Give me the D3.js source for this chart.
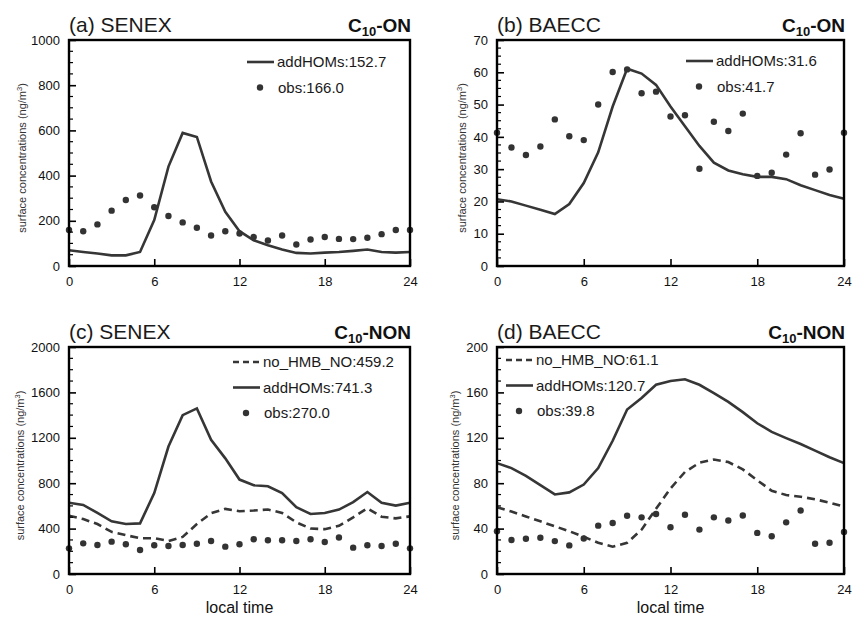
<!DOCTYPE html>
<html>
<head>
<meta charset="utf-8">
<script src="https://cdn.jsdelivr.net/npm/d3@7"></script>
<style>
  body { margin: 0; background: #fff; }
  svg { display: block; font-family: "Liberation Sans", Arial, sans-serif; }
</style>
</head>
<body>
<div id="chart"></div>
<script>
(function () {
    "use strict";

    // hour of day (x values shared by every panel)
    var hours = [0, 1, 2, 3, 4, 5, 6, 7, 8, 9, 10, 11, 12, 13, 14, 15, 16, 17, 18, 19, 20, 21, 22, 23, 24];
    var xTicks = [0, 6, 12, 18, 24];

    // (a) SENEX C10-ON
    var senexOnAddHOMs = [70, 62, 55, 47, 47, 62, 203, 440, 589, 571, 374, 240, 154, 114, 92, 73, 58, 55, 59, 62, 67, 73, 62, 59, 62];
    var senexOnObs = [159, 154, 184, 245, 292, 312, 260, 221, 193, 169, 135, 154, 144, 128, 113, 135, 95, 117, 128, 120, 119, 125, 141, 159, 159];

    // (b) BAECC C10-ON
    var baeccOnAddHOMs = [20.7, 20.0, 18.7, 17.4, 16.1, 19.2, 25.7, 35.2, 49.4, 61.1, 59.6, 56.1, 49.4, 43.3, 37.2, 32.0, 29.6, 28.4, 27.6, 27.6, 26.9, 25.0, 23.5, 22.0, 20.8];
    var baeccOnObs = [41.3, 36.7, 34.4, 37.0, 45.4, 40.2, 39.0, 50.0, 60.1, 60.9, 53.5, 54.0, 46.3, 46.7, 30.1, 44.7, 41.8, 47.2, 27.9, 28.9, 34.5, 41.1, 28.3, 29.9, 41.3];

    // (c) SENEX C10-NON
    var senexNonNoHMB = [514, 484, 440, 371, 342, 315, 315, 291, 327, 440, 535, 574, 553, 559, 568, 538, 455, 401, 395, 425, 499, 579, 505, 490, 508];
    var senexNonAddHOMs = [627, 609, 538, 464, 440, 446, 713, 1123, 1400, 1459, 1183, 1019, 832, 782, 773, 713, 588, 529, 538, 568, 633, 722, 627, 603, 627];
    var senexNonObs = [226, 270, 256, 285, 262, 211, 253, 247, 256, 267, 291, 241, 262, 306, 297, 297, 291, 306, 282, 321, 232, 253, 247, 267, 226];

    // (d) BAECC C10-NON
    var baeccNonNoHMB = [58.8, 55.1, 50.7, 46.4, 42.0, 37.7, 32.8, 27.5, 24.1, 27.5, 39.1, 57.4, 75.4, 89.9, 98.0, 100.9, 98.6, 92.2, 82.6, 73.3, 69.6, 68.1, 65.8, 62.9, 59.4];
    var baeccNonAddHOMs = [97.7, 93.3, 86.4, 78.3, 70.1, 71.9, 78.8, 93.3, 117.4, 144.9, 155.1, 166.7, 170.1, 171.6, 166.7, 159.4, 151.6, 142.6, 132.8, 125.2, 119.7, 114.5, 108.7, 102.9, 97.7];
    var baeccNonObs = [37.7, 29.9, 31.0, 31.9, 29.0, 25.2, 31.3, 42.6, 44.9, 51.3, 49.9, 52.8, 41.2, 52.2, 39.1, 49.9, 47.2, 51.6, 36.2, 33.3, 45.5, 55.9, 26.7, 27.5, 37.1];

    // y tick labels per panel
    var yTicksA = [0, 200, 400, 600, 800, 1000];
    var yTicksB = [0, 10, 20, 30, 40, 50, 60, 70];
    var yTicksC = [0, 400, 800, 1200, 1600, 2000];
    var yTicksD = [0, 40, 80, 120, 160, 200];

    var width = 852,
        height = 618,
        lineColor = '#363636';

    var panels = [
        {
            tag: '(a) SENEX', kind: 'ON', x0: 69, x1: 410, y0: 40, y1: 266,
            yMax: 1000, yTicks: yTicksA, minor: 50, yLabelX: 22,
            legend: { x: 178, y: 22 },
            series: [
                { type: 'line', name: 'addHOMs:152.7', values: senexOnAddHOMs },
                { type: 'dot', name: 'obs:166.0', values: senexOnObs }
            ]
        },
        {
            tag: '(b) BAECC', kind: 'ON', x0: 497, x1: 844, y0: 40, y1: 266,
            yMax: 70, yTicks: yTicksB, minor: 2.5, yLabelX: 462,
            legend: { x: 189, y: 21 },
            series: [
                { type: 'line', name: 'addHOMs:31.6', values: baeccOnAddHOMs },
                { type: 'dot', name: 'obs:41.7', values: baeccOnObs }
            ]
        },
        {
            tag: '(c) SENEX', kind: 'NON', x0: 69, x1: 410, y0: 347, y1: 574,
            yMax: 2000, yTicks: yTicksC, minor: 100, yLabelX: 20, xLabel: true,
            legend: { x: 164, y: 15 },
            series: [
                { type: 'dash', name: 'no_HMB_NO:459.2', values: senexNonNoHMB },
                { type: 'line', name: 'addHOMs:741.3', values: senexNonAddHOMs },
                { type: 'dot', name: 'obs:270.0', values: senexNonObs }
            ]
        },
        {
            tag: '(d) BAECC', kind: 'NON', x0: 497, x1: 844, y0: 347, y1: 574,
            yMax: 200, yTicks: yTicksD, minor: 10, yLabelX: 455, xLabel: true,
            legend: { x: 9, y: 13 },
            series: [
                { type: 'dash', name: 'no_HMB_NO:61.1', values: baeccNonNoHMB },
                { type: 'line', name: 'addHOMs:120.7', values: baeccNonAddHOMs },
                { type: 'dot', name: 'obs:39.8', values: baeccNonObs }
            ]
        }
    ];

    var svg = d3.select('#chart').append('svg')
        .attr('width', width)
        .attr('height', height);

    panels.forEach(function (p) {
        var g = svg.append('g');
        var x = d3.scaleLinear().domain([0, 24]).range([p.x0, p.x1]);
        var y = d3.scaleLinear().domain([0, p.yMax]).range([p.y1, p.y0]);

        // model lines
        var line = d3.line()
            .x(function (d, i) { return x(hours[i]); })
            .y(function (d) { return y(d); });

        p.series.forEach(function (s) {
            if (s.type === 'dot') {
                g.append('g').selectAll('circle')
                    .data(s.values)
                    .enter().append('circle')
                    .attr('cx', function (d, i) { return x(hours[i]); })
                    .attr('cy', function (d) { return y(d); })
                    .attr('r', 3.2)
                    .attr('fill', '#333');
            } else {
                g.append('path')
                    .datum(s.values)
                    .attr('d', line)
                    .attr('fill', 'none')
                    .attr('stroke', lineColor)
                    .attr('stroke-width', 2.6)
                    .attr('stroke-dasharray', s.type === 'dash' ? '8,5' : null);
            }
        });

        // y axis: labelled majors plus minor ticks, all pointing inward
        var yAxis = d3.axisLeft(y).tickValues(p.yTicks).tickSize(-7).tickPadding(9)
            .tickFormat(d3.format('d'));
        var ya = g.append('g').attr('transform', 'translate(' + p.x0 + ',0)').call(yAxis);
        ya.select('.domain').remove();
        var minors = d3.range(0, p.yMax + 0.001, p.minor).filter(function (v) {
            return p.yTicks.indexOf(v) < 0;
        });
        g.append('g').selectAll('line')
            .data(minors)
            .enter().append('line')
            .attr('x1', p.x0).attr('x2', p.x0 + 4)
            .attr('y1', function (d) { return y(d); })
            .attr('y2', function (d) { return y(d); })
            .attr('stroke', '#000')
            .attr('stroke-width', 1.2);

        // x axis
        var xAxis = d3.axisBottom(x).tickValues(xTicks).tickSize(-7).tickPadding(11);
        var xa = g.append('g').attr('transform', 'translate(0,' + p.y1 + ')').call(xAxis);
        xa.select('.domain').remove();

        [ya, xa].forEach(function (a) {
            a.selectAll('text').attr('font-size', 13).attr('fill', '#111')
                .attr('font-family', '"Liberation Sans", Arial, sans-serif');
            a.selectAll('.tick line').attr('stroke', '#000').attr('stroke-width', 1.6);
        });

        // frame
        g.append('rect')
            .attr('x', p.x0).attr('y', p.y0)
            .attr('width', p.x1 - p.x0).attr('height', p.y1 - p.y0)
            .attr('fill', 'none')
            .attr('stroke', '#000')
            .attr('stroke-width', 2.4);

        // panel title
        g.append('text')
            .attr('x', p.x0).attr('y', p.y0 - 8)
            .attr('font-size', 21)
            .attr('fill', '#1a1a1a')
            .text(p.tag);

        var kt = g.append('text')
            .attr('x', p.x1 + 1).attr('y', p.y0 - 8)
            .attr('text-anchor', 'end')
            .attr('font-size', 19)
            .attr('font-weight', 'bold')
            .attr('fill', '#111');
        kt.append('tspan').text('C');
        kt.append('tspan').attr('font-size', 13).attr('dy', 4).text('10');
        kt.append('tspan').attr('dy', -4).text('-' + p.kind);

        // y label
        var yl = g.append('text')
            .attr('transform', 'translate(' + p.yLabelX + ',' + ((p.y0 + p.y1) / 2 + 5) + ') rotate(-90)')
            .attr('dy', '0.35em')
            .attr('text-anchor', 'middle')
            .attr('font-size', 11)
            .attr('fill', '#333');
        yl.append('tspan').text('surface concentrations (ng/m');
        yl.append('tspan').attr('font-size', 7.5).attr('dy', -4).text('3');
        yl.append('tspan').attr('dy', 4).text(')');

        if (p.xLabel) {
            g.append('text')
                .attr('x', (p.x0 + p.x1) / 2).attr('y', 613)
                .attr('text-anchor', 'middle')
                .attr('font-size', 16)
                .attr('fill', '#111')
                .text('local time');
        }

        // legend
        var lx = p.x0 + p.legend.x,
            ly = p.y0 + p.legend.y;
        p.series.forEach(function (s, i) {
            var ry = ly + i * 25.5;
            if (s.type === 'dot') {
                g.append('circle')
                    .attr('cx', lx + 13).attr('cy', ry)
                    .attr('r', 3.2).attr('fill', '#333');
            } else {
                g.append('line')
                    .attr('x1', lx).attr('x2', lx + 27)
                    .attr('y1', ry).attr('y2', ry)
                    .attr('stroke', lineColor)
                    .attr('stroke-width', 2.6)
                    .attr('stroke-dasharray', s.type === 'dash' ? '6,4' : null);
            }
            g.append('text')
                .attr('x', lx + 30 + (s.type === 'dot' ? 1 : 0)).attr('y', ry + 5)
                .attr('font-size', 15)
                .attr('fill', '#1a1a1a')
                .text(s.name);
        });
    });
}());
</script>
</body>
</html>
